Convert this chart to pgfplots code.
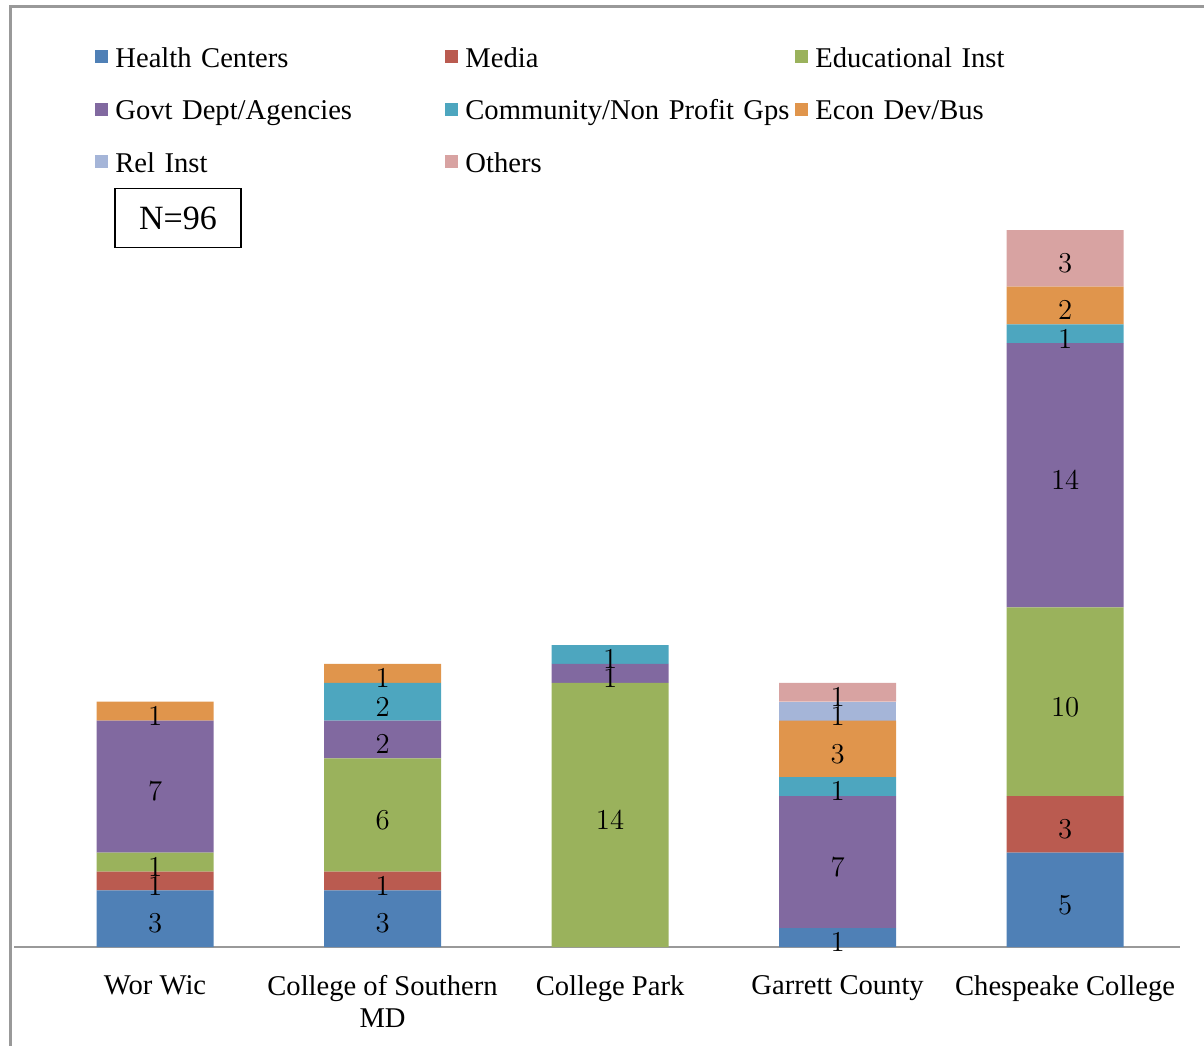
\documentclass[border=0pt]{standalone}
\usepackage{fontspec}
\setmainfont{Liberation Serif}
\usepackage{pgfplots}
\usepackage{pgfplotstable}
\pgfplotsset{compat=1.18}

\definecolor{cHealth}{HTML}{4F80B6}
\definecolor{cMedia}{HTML}{BA5B50}
\definecolor{cEdu}{HTML}{9AB25C}
\definecolor{cGovt}{HTML}{8169A0}
\definecolor{cComm}{HTML}{4DA6BF}
\definecolor{cEcon}{HTML}{E0954C}
\definecolor{cRel}{HTML}{A5B5D8}
\definecolor{cOther}{HTML}{D8A3A2}

\newcommand\lf{\fontsize{14.3}{16}\selectfont}

% x: 0 Wor Wic, 1 College of Southern MD, 2 College Park, 3 Garrett County, 4 Chespeake College
\pgfplotstableread{
x health media edu govt comm econ rel other
0 3 1 1  7  0 1 0 0
1 3 1 6  2  2 1 0 0
2 0 0 14 1  1 0 0 0
3 1 0 0  7  1 3 1 1
4 5 3 10 14 1 2 0 3
}\counts

% one stacked segment: column name, colour
\pgfplotsset{
  seg/.style 2 args={fill=#2, draw=none,
    visualization depends on={\thisrow{#1}\as\segv},
    nodes near coords={\ifdim\segv pt>0pt \pgfmathprintnumber{\segv}\fi},
    every node near coord/.append style={anchor=center, inner sep=0pt, text=black, yshift=-2.5pt},
    legend image code/.code={\fill[#2] (0pt,2pt) rectangle (6.5pt,8.5pt);}},
}

\begin{document}
\begin{tikzpicture}[font=\lf]
\useasboundingbox (0,0) rectangle (602pt,522.5pt);
\draw[line width=1.5pt, black!40] (5pt,-20pt) |- (640pt,519pt);

\begin{axis}[
    at={(7pt,49pt)}, anchor=south west,
    scale only axis,
    width=583pt, height=377.36pt,
    ybar stacked, bar width=58.5pt,
    xmin=-0.62, xmax=4.505, ymin=0, ymax=40,
    axis x line=bottom, axis y line=none,
    x axis line style={-, line width=1.2pt, black!40},
    xtick={0,1,2,3,4},
    xticklabels={Wor Wic, {College of Southern\\MD}, College Park, Garrett County, Chespeake College},
    xtick style={draw=none},
    xticklabel style={align=center, inner sep=0pt, yshift=-12pt},
    ytick=\empty,
    legend columns=3,
    legend cell align=left,
    legend style={at={(0.06947,1.1925)}, anchor=north west,
      draw=none, fill=none, inner sep=0pt,
      row sep=13.25pt,
      cells={anchor=base west},
      nodes={inner sep=0pt, text height=10pt, text depth=3pt, text width=165pt, align=left},
      /tikz/every odd column/.append style={column sep=3.5pt},
      /tikz/every even column/.append style={column sep=0pt}},
]
\addplot[seg={health}{cHealth}] table[x=x, y=health] {\counts};
\addlegendentry{Health Centers}
\addplot[seg={media}{cMedia}] table[x=x, y=media] {\counts};
\addlegendentry{Media}
\addplot[seg={edu}{cEdu}] table[x=x, y=edu] {\counts};
\addlegendentry{Educational Inst}
\addplot[seg={govt}{cGovt}] table[x=x, y=govt] {\counts};
\addlegendentry{Govt Dept/Agencies}
\addplot[seg={comm}{cComm}] table[x=x, y=comm] {\counts};
\addlegendentry{Community/Non Profit Gps}
\addplot[seg={econ}{cEcon}] table[x=x, y=econ] {\counts};
\addlegendentry{Econ Dev/Bus}
\addplot[seg={rel}{cRel}] table[x=x, y=rel] {\counts};
\addlegendentry{Rel Inst}
\addplot[seg={other}{cOther}] table[x=x, y=other] {\counts};
\addlegendentry{Others}
\end{axis}

\node[draw, line width=0.8pt, minimum width=63pt, minimum height=29.5pt,
  font=\fontsize{17}{20}\selectfont] at (89pt,413.5pt) {N=96};
\end{tikzpicture}
\end{document}
